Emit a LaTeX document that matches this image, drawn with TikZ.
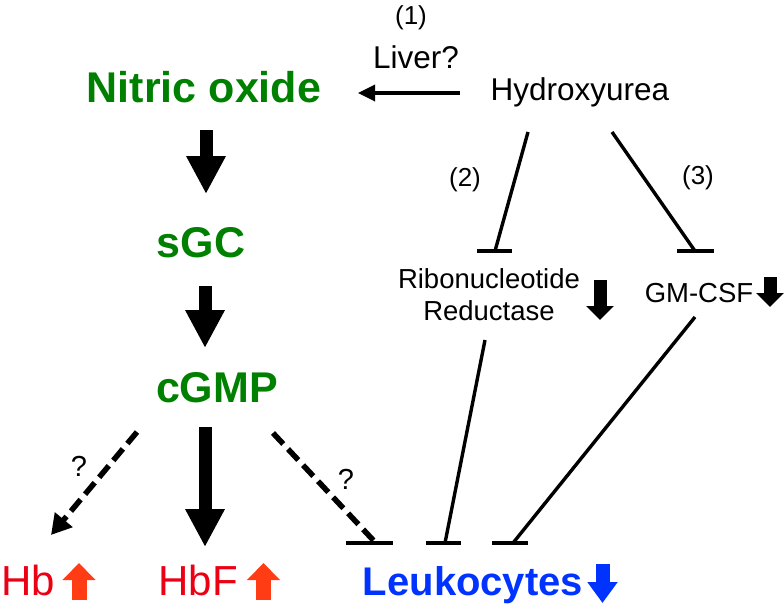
\documentclass[tikz,border=0pt]{standalone}
\usepackage{fontspec}
\setmainfont{Liberation Sans}
\usetikzlibrary{arrows.meta}
\definecolor{nogreen}{RGB}{0,128,0}
\definecolor{hbred}{RGB}{235,0,20}
\definecolor{uparr}{RGB}{255,60,20}
\definecolor{leublue}{RGB}{0,51,255}
\begin{document}
\begin{tikzpicture}[x=1pt,y=-1pt,
  lbl/.style={inner sep=0pt, anchor=base},
  greenlbl/.style={lbl, font=\fontsize{43}{43}\selectfont\bfseries, text=nogreen},
  blacklbl/.style={lbl, font=\fontsize{31.5}{31.5}\selectfont},
  smalllbl/.style={lbl, font=\fontsize{26}{26}\selectfont},
  midlbl/.style={lbl, font=\fontsize{27.5}{27.5}\selectfont},
  qlbl/.style={lbl, font=\fontsize{29}{29}\selectfont},
  redlbl/.style={lbl, font=\fontsize{42}{42}\selectfont, text=hbred},
  bluelbl/.style={lbl, font=\fontsize{40}{40}\selectfont\bfseries, text=leublue},
  bigdown/.style={line width=13pt, -{Triangle[length=38pt,width=37pt]}},
  redup/.style={uparr, line width=15pt, -{Triangle[length=17pt,width=32pt]}},
  bluedown/.style={leublue, line width=14pt, -{Triangle[length=21pt,width=29pt]}},
  smalldown/.style={line width=13pt, -{Triangle[length=14pt,width=27pt]}},
  thin/.style={line width=3.4pt},
  dashline/.style={line width=5.5pt, dash pattern=on 15pt off 7pt},
  tbar/.style={line width=4pt}
]
\useasboundingbox (0,0) rectangle (784,611);

% labels
\node[greenlbl] (no) at (204,102) {Nitric oxide};
\node[greenlbl] (sgc) at (201,257) {sGC};
\node[greenlbl] (cgmp) at (217,402) {cGMP};
\node[blacklbl] (hu) at (580,100) {Hydroxyurea};
\node[blacklbl] (liver) at (416,68) {Liver?};
\node[smalllbl] (n1) at (411,24) {(1)};
\node[smalllbl] (n2) at (465,186) {(2)};
\node[smalllbl] (n3) at (698,184) {(3)};
\node[midlbl] (rnr1) at (489,288) {Ribonucleotide};
\node[midlbl] (rnr2) at (489,320) {Reductase};
\node[midlbl] (gm) at (699,302) {GM-CSF};
\node[redlbl] (hb) at (28,595) {Hb};
\node[redlbl] (hbf) at (198,595) {HbF};
\node[bluelbl] (leu) at (473,595) {Leukocytes};
\node[qlbl] (q1) at (79,476) {?};
\node[qlbl] (q2) at (346,489) {?};

% coordinates
\coordinate (a1s) at (206,130); \coordinate (a1e) at (206,194);
\coordinate (a2s) at (205,286); \coordinate (a2e) at (205,348);
\coordinate (a3s) at (205,427); \coordinate (a3e) at (205,547);
\coordinate (hus) at (460,93);  \coordinate (hue) at (358,93);
\coordinate (i1s) at (528,132); \coordinate (i1e) at (495,251);
\coordinate (b1l) at (477,251); \coordinate (b1r) at (512,251);
\coordinate (i2s) at (612,132); \coordinate (i2e) at (695,251);
\coordinate (b2l) at (677,251); \coordinate (b2r) at (714,251);
\coordinate (r1s) at (485,340); \coordinate (r1e) at (445,543);
\coordinate (b3l) at (426,543); \coordinate (b3r) at (461,543);
\coordinate (g1s) at (695,317); \coordinate (g1e) at (513,543);
\coordinate (b4l) at (492,543); \coordinate (b4r) at (528,543);
\coordinate (d1s) at (137,432); \coordinate (d1e) at (51,535);
\coordinate (d2s) at (273,433); \coordinate (d2e) at (374,541);
\coordinate (b5l) at (346,543); \coordinate (b5r) at (393,543);
\coordinate (hbas) at (79,600); \coordinate (hbae) at (79,563);
\coordinate (hbfas) at (263.5,600); \coordinate (hbfae) at (263.5,563);
\coordinate (leas) at (602.5,564); \coordinate (leae) at (602.5,603);
\coordinate (rnas) at (600,280); \coordinate (rnae) at (600,320);
\coordinate (gmas) at (770,277); \coordinate (gmae) at (770,307);

% main cascade
\draw[bigdown] (a1s) -- (a1e);
\draw[bigdown] (a2s) -- (a2e);
\draw[bigdown] (a3s) -- (a3e);

% hydroxyurea -> NO
\draw[thin, -{Triangle[length=17pt,width=16pt]}] (hus) -- (hue);

% inhibitions
\draw[thin] (i1s) -- (i1e); \draw[tbar] (b1l) -- (b1r);
\draw[thin] (i2s) -- (i2e); \draw[tbar] (b2l) -- (b2r);
\draw[thin] (r1s) -- (r1e); \draw[tbar] (b3l) -- (b3r);
\draw[thin] (g1s) -- (g1e); \draw[tbar] (b4l) -- (b4r);

% dashed
\draw[dashline, -{Triangle[length=20pt,width=22pt]}] (d1s) -- (d1e);
\draw[dashline] (d2s) -- (d2e); \draw[tbar] (b5l) -- (b5r);

% level arrows
\draw[redup] (hbas) -- (hbae);
\draw[redup] (hbfas) -- (hbfae);
\draw[bluedown] (leas) -- (leae);
\draw[smalldown] (rnas) -- (rnae);
\draw[smalldown] (gmas) -- (gmae);
\end{tikzpicture}
\end{document}
